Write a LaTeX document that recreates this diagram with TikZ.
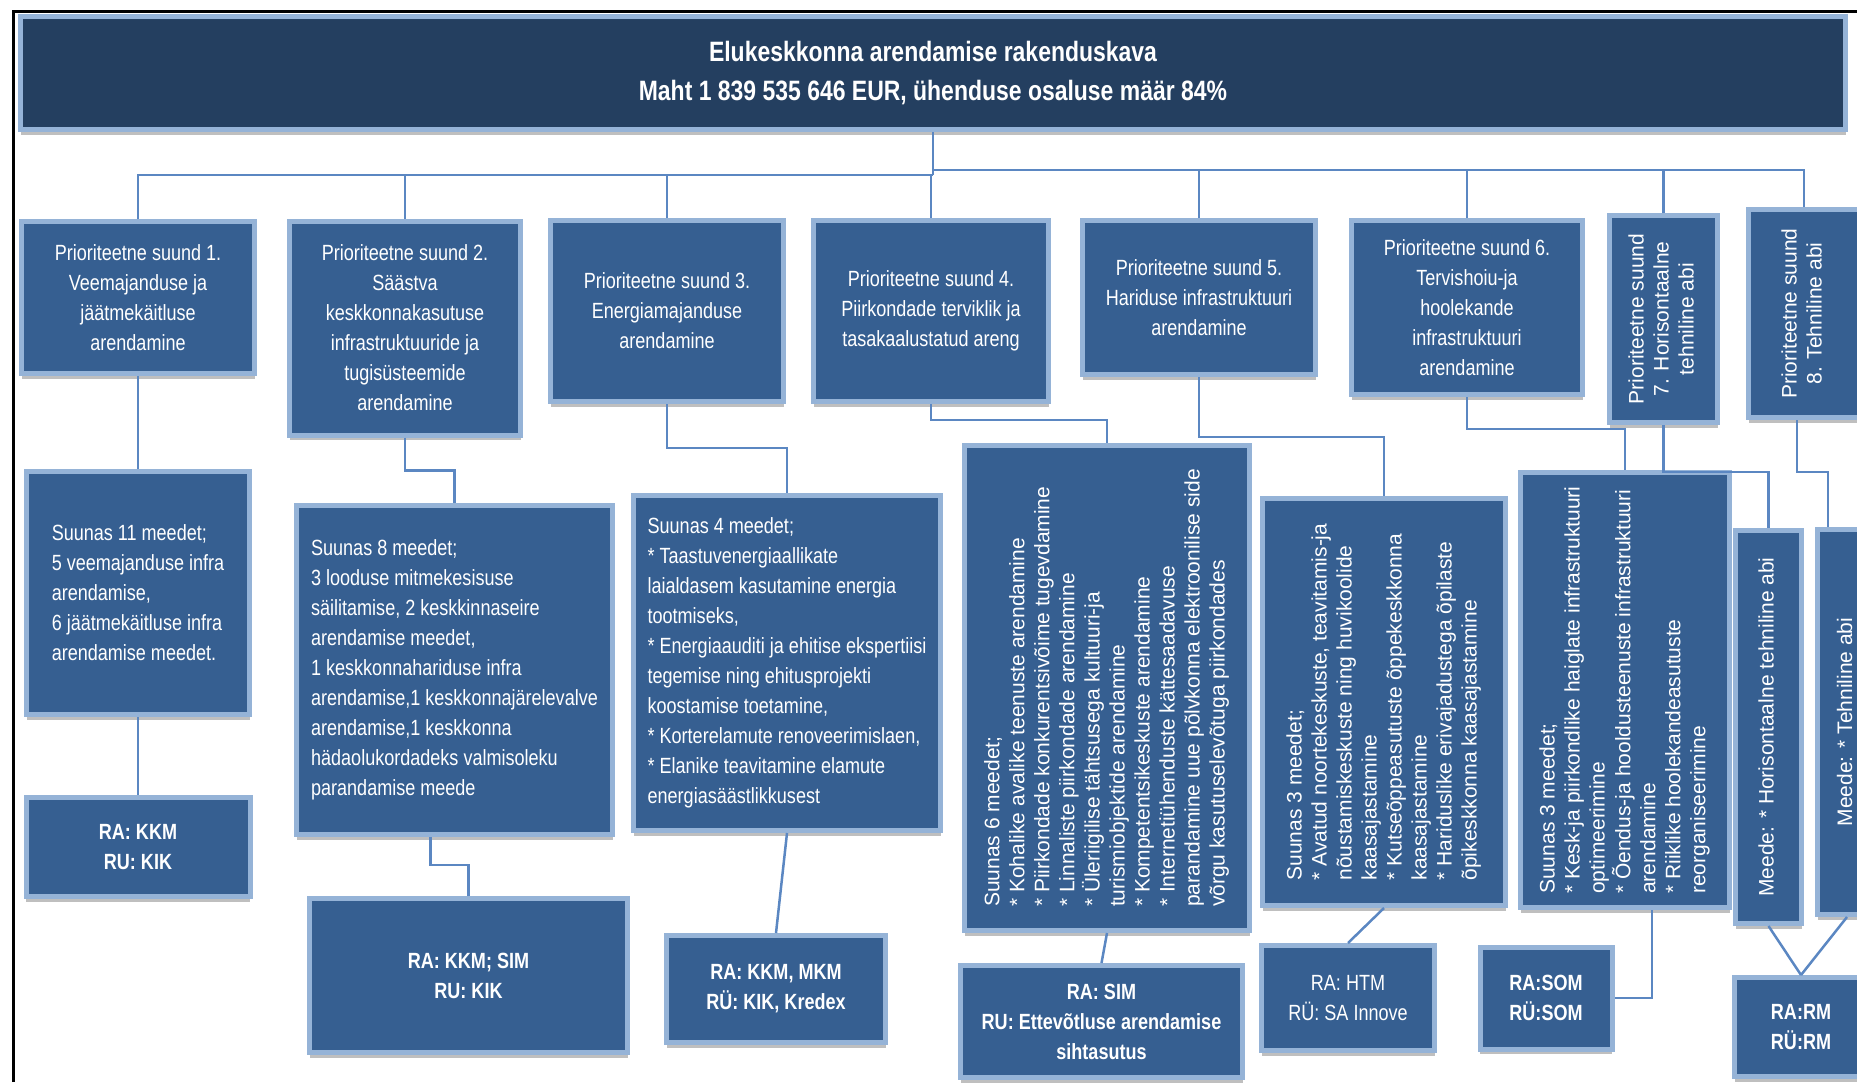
\documentclass[tikz,border=0pt]{standalone}
\usepackage{fontspec}
\setmainfont{Liberation Sans}[FakeStretch=0.82]
\newfontfamily\rotfont{Liberation Sans}
\usepackage{graphicx}
\usepackage{tikz}
\usetikzlibrary{calc}
\usetikzlibrary{shadows}
\definecolor{titlefill}{HTML}{243F60}
\definecolor{boxfill}{HTML}{365F91}
\definecolor{boxrim}{HTML}{95B3D7}
\definecolor{linkblue}{HTML}{5B87C2}
\newcommand{\uptext}[2]{\rotatebox{90}{\begin{tabular}{@{}#1@{}}#2\end{tabular}}}
\tikzset{
  plainbox/.style={draw=boxrim, line width=5pt, fill=boxfill, text=white, inner sep=0pt,
    drop shadow={shadow xshift=0pt, shadow yshift=-5pt, fill=black!25, opacity=1}},
  toptitle/.style={plainbox, fill=titlefill, font=\bfseries\fontsize{28}{39}\selectfont, align=center},
  suund/.style={plainbox, font=\fontsize{22}{30}\selectfont, align=center},
  meetmed/.style={plainbox, font=\fontsize{22}{30}\selectfont, align=left},
  upright/.style={plainbox, font=\rotfont\fontsize{21}{25}\selectfont},
  vastutaja/.style={plainbox, font=\bfseries\fontsize{22}{30}\selectfont, align=center},
  link/.style={draw=linkblue, line width=2.5pt},
}

\begin{document}
\begin{tikzpicture}[x=1pt, y=-1pt]
\useasboundingbox (0,0) rectangle (1857,1082);
\clip (0,0) rectangle (1857,1082);
% page frame
\draw[line width=3pt] (13,1082) -- (13,11) -- (1857,11);
% title
\node[toptitle, minimum width=1825pt, minimum height=113pt] (title) at (933,73)
  {Elukeskkonna arendamise rakenduskava\\Maht 1 839 535 646 EUR, ühenduse osaluse määr 84\%};
% priority axes
\node[suund, minimum width=233pt, minimum height=152pt] (p1) at (138,297.5)
  {Prioriteetne suund 1.\\Veemajanduse ja\\jäätmekäitluse\\arendamine};
\node[suund, minimum width=231pt, minimum height=214pt] (p2) at (405,328)
  {Prioriteetne suund 2.\\Säästva\\keskkonnakasutuse\\infrastruktuuride ja\\tugisüsteemide\\arendamine};
\node[suund, minimum width=233pt, minimum height=181pt] (p3) at (667,311)
  {Prioriteetne suund 3.\\Energiamajanduse\\arendamine};
\node[suund, minimum width=235pt, minimum height=181pt] (p4) at (931,311)
  {Prioriteetne suund 4.\\Piirkondade terviklik ja\\tasakaalustatud areng};
\node[suund, minimum width=233pt, minimum height=154pt] (p5) at (1199,297.5)
  {Prioriteetne suund 5.\\Hariduse infrastruktuuri\\arendamine};
\node[suund, minimum width=231pt, minimum height=174pt] (p6) at (1467,307.5)
  {Prioriteetne suund 6.\\Tervishoiu-ja\\hoolekande\\infrastruktuuri\\arendamine};
\node[upright, minimum width=108pt, minimum height=207pt] (p7) at (1663.5,319)
  {\uptext{c}{Prioriteetne suund\\7. Horisontaalne\\tehniline abi}};
\node[upright, minimum width=111pt, minimum height=208pt] (p8) at (1804,313.5)
  {\uptext{c}{Prioriteetne suund\\8. Tehniline abi}};
% measures
\node[meetmed, minimum width=223pt, minimum height=243pt] (b1) at (138,593)
  {Suunas 11 meedet;\\5 veemajanduse infra\\arendamise,\\6 jäätmekäitluse infra\\arendamise meedet.};
\node[meetmed, minimum width=316pt, minimum height=329pt] (b2) at (454.5,670)
  {Suunas 8 meedet;\\3 looduse mitmekesisuse\\säilitamise, 2 keskkinnaseire\\arendamise meedet,\\1 keskkonnahariduse infra\\arendamise,1 keskkonnajärelevalve\\arendamise,1 keskkonna\\hädaolukordadeks valmisoleku\\parandamise meede};
\node[meetmed, minimum width=307pt, minimum height=335pt] (b3) at (787,663)
  {Suunas 4 meedet;\\* Taastuvenergiaallikate\\laialdasem kasutamine energia\\tootmiseks,\\* Energiaauditi ja ehitise ekspertiisi\\tegemise ning ehitusprojekti\\koostamise toetamine,\\* Korterelamute renoveerimislaen,\\* Elanike teavitamine elamute\\energiasäästlikkusest};
\node[upright, minimum width=285pt, minimum height=485pt] (b4) at (1107,688)
  {\uptext{l}{Suunas 6 meedet;\\{}* Kohalike avalike teenuste arendamine\\{}* Piirkondade konkurentsivõime tugevdamine\\{}* Linnaliste piirkondade arendamine\\{}* Üleriigilise tähtsusega kultuuri-ja\\turismiobjektide arendamine\\{}* Kompetentsikeskuste arendamine\\{}* Internetiühenduste kättesaadavuse\\parandamine uue põlvkonna elektroonilise side\\võrgu kasutuselevõtuga piirkondades}};
\node[upright, minimum width=243pt, minimum height=407pt] (b5) at (1384,702)
  {\uptext{l}{Suunas 3 meedet;\\{}* Avatud noortekeskuste, teavitamis-ja\\nõustamiskeskuste ning huvikoolide\\kaasajastamine\\{}* Kutseõppeasutuste õppekeskkonna\\kaasajastamine\\{}* Hariduslike erivajadustega õpilaste\\õpikeskkonna kaasajastamine}};
\node[upright, minimum width=209pt, minimum height=435pt] (b6) at (1625,690)
  {\uptext{l}{Suunas 3 meedet;\\{}* Kesk-ja piirkondlike haiglate infrastruktuuri\\optimeerimine\\{}* Õendus-ja hooldusteenuste infrastruktuuri\\arendamine\\{}* Riiklike hoolekandeasutuste\\reorganiseerimine}};
\node[upright, minimum width=66pt, minimum height=393pt] (b7) at (1768.5,727)
  {\uptext{l}{Meede: * Horisontaalne tehniline abi}};
\node[upright, minimum width=59pt, minimum height=385pt] (b8) at (1847,722)
  {\uptext{l}{Meede: * Tehniline abi}};
% responsible bodies
\node[vastutaja, minimum width=224pt, minimum height=99pt] (a1) at (138,847) {RA: KKM\\RU: KIK};
\node[vastutaja, minimum width=318pt, minimum height=154pt] (a2) at (468.5,975.5) {RA: KKM; SIM\\RU: KIK};
\node[vastutaja, minimum width=219pt, minimum height=107pt] (a3) at (776,989) {RA: KKM, MKM\\RÜ: KIK, Kredex};
\node[vastutaja, minimum width=282pt, minimum height=112pt] (a4) at (1101.5,1021.5) {RA: SIM\\RU: Ettevõtluse arendamise\\sihtasutus};
\node[vastutaja, font=\fontsize{22}{30}\selectfont, minimum width=173pt, minimum height=105pt] (a5) at (1348,998) {RA: HTM\\RÜ: SA Innove};
\node[vastutaja, minimum width=132pt, minimum height=102pt] (a6) at (1546,998) {RA:SOM\\RÜ:SOM};
\node[vastutaja, minimum width=133pt, minimum height=99pt] (a7) at (1801,1027) {RA:RM\\RÜ:RM};
% title to axes
\coordinate (lbar) at (933,175);
\coordinate (rbar) at (933,170);
\draw[link] (title.south) -- (lbar);
\foreach \n in {p1,p2,p3,p4} \draw[link] (\n.north) |- (lbar);
\foreach \n in {p5,p6,p7,p8} \draw[link] (\n.north) |- (rbar);
% axes to measures
\draw[link] (p1.south) -- (b1.north);
\draw[link] (p2.south) -- ++(0,33) -| (b2.north);
\draw[link] (p3.south) -- ++(0,44) -| (b3.north);
\draw[link] (p4.south) -- ++(0,16) -| (b4.north);
\draw[link] (p5.south) -- ++(0,60) -| (b5.north);
\draw[link] (p6.south) -- ++(0,32) -| (b6.north);
\draw[link] (p7.south) -- ++(0,47) -| (b7.north);
\draw[link] ([xshift=-7pt]p8.south) -- ++(0,52) -| ([xshift=-19pt]b8.north);
% measures to responsible bodies
\draw[link] (b1.south) -- (a1.north);
\draw[link] ([xshift=-24pt]b2.south) -- ++(0,28) -| (a2.north);
\draw[link] (b3.south) -- (a3.north);
\draw[link] (b4.south) -- (a4.north);
\draw[link] (b5.south) -- (a5.north);
\draw[link] ([xshift=27pt]b6.south) |- (a6.east);
\draw[link] (b7.south) -- (a7.north);
\draw[link] (b8.south) -- (a7.north);
\end{tikzpicture}
\end{document}
